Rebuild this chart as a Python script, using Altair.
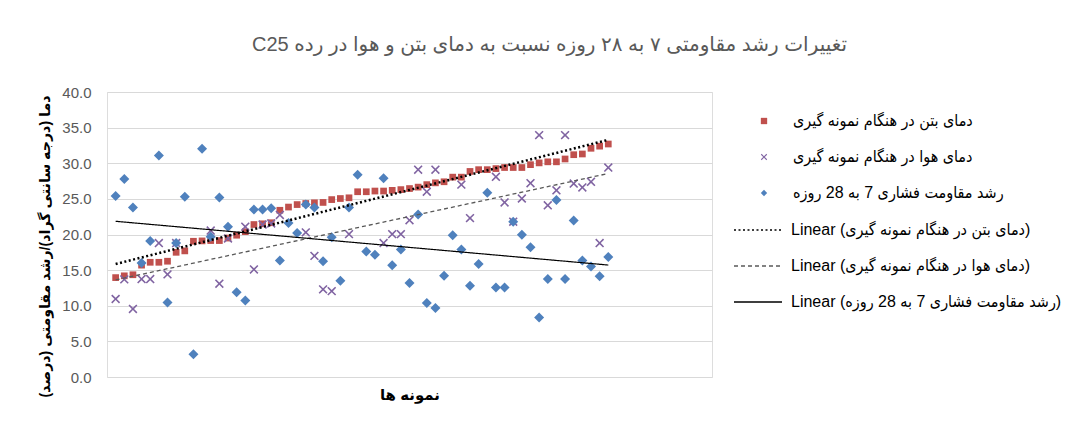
import altair as alt
import pandas as pd

# ---------------- data ----------------
sample_no = list(range(1, 59))

concrete_temp = [13.95, 14.2, 14.35, 15.7, 16.1, 16.1, 16.25, 17.5, 17.7, 19.05,
                 19.1, 19.15, 19.15, 19.5, 19.9, 20.4, 21.4, 21.5, 21.65, 23.4,
                 23.85, 24.2, 24.35, 24.45, 24.5, 24.9, 25.05, 25.15, 26.0, 26.0,
                 26.1, 26.1, 26.2, 26.3, 26.45, 26.65, 27.0, 27.25, 27.4, 28.05,
                 28.05, 28.85, 29.1, 29.1, 29.25, 29.4, 29.4, 29.4, 29.8, 30.05,
                 30.2, 30.2, 30.6, 31.2, 31.3, 32.1, 32.4, 32.7]

air_temp = [10.95, 13.7, 9.55, 13.75, 13.75, 18.8, 14.4, 18.8, None, None,
            None, 20.55, 13.1, 19.45, None, 21.1, 15.1, 21.4, 21.55, 22.75,
            None, None, 20.3, 17.0, 12.3, 12.05, None, 20.05, None, None,
            None, 18.8, 20.05, 20.05, 22.0, 29.1, 26.0, 29.1, None, None,
            27.0, 22.3, None, None, 28.1, 24.5, 21.8, 25.05, 27.2, 33.95,
            24.1, 26.2, 33.95, 27.15, 26.6, 27.4, 18.8, 29.4]

strength_growth = [25.4, 27.8, 23.8, 16.0, 19.1, 31.1, 10.45, 18.8, 25.3, 3.2,
                   32.05, 19.7, 25.2, 21.1, 11.9, 10.75, 23.5, 23.5, 23.7, 16.35,
                   21.6, 20.2, 24.2, 23.8, 16.25, 19.6, 13.5, 23.8, 28.4, 17.6,
                   17.15, 27.9, 15.7, 17.9, 13.2, 22.8, 10.4, 9.7, 14.2, 19.9,
                   17.9, 12.8, 15.85, 25.85, 12.55, 12.55, 21.8, 19.95, 18.2, 8.35,
                   13.75, 24.85, 13.75, 21.95, 16.35, 15.5, 14.15, 16.85]

series_names = ["دمای بتن در هنگام نمونه گیری",
                "دمای هوا در هنگام نمونه گیری",
                "رشد مقاومت فشاری 7 به 28 روزه"]
trend_names = ["Linear (" + s + ")" for s in series_names]
y_ticks = [0, 5, 10, 15, 20, 25, 30, 35, 40]

TITLE = "\u202bتغییرات رشد مقاومتی ۷ به ۲۸ روزه نسبت به دمای بتن و هوا در رده C25\u202c"
Y_TITLE = "\u202bدما (درجه سانتی گراد)/رشد مقاومتی (درصد)\u202c"
X_TITLE = "نمونه ها"

rows = []
for name, tname, vals in zip(series_names, trend_names,
                             [concrete_temp, air_temp, strength_growth]):
    for x, v in zip(sample_no, vals):
        if v is not None:
            rows.append({"x": x, "value": v, "series": name, "trend": tname})
df = pd.DataFrame(rows)

# ---------------- styling ----------------
FONT = "Liberation Sans, DejaVu Sans, sans-serif"
LEGEND_FONT = "Liberation Sans, DejaVu Sans Condensed, DejaVu Sans, sans-serif"
point_colors = ["#C0504D", "#8064A2", "#4F81BD"]
X_PATH = ("M-0.75,-1L0,-0.25L0.75,-1L1,-0.75L0.25,0L1,0.75L0.75,1L0,0.25"
          "L-0.75,1L-1,0.75L-0.25,0L-1,-0.75Z")
point_shapes = ["square", X_PATH, "diamond"]
point_sizes = [45, 80, 100]

x_enc = alt.X("x:Q", scale=alt.Scale(domain=[0, 70], nice=False, zero=False),
              axis=alt.Axis(title=X_TITLE, labels=False, ticks=False, grid=False,
                            domain=False, titleFont=FONT, titleFontSize=15,
                            titleFontWeight="bold", titleColor="#000000",
                            titlePadding=10))
y_enc = alt.Y("value:Q", scale=alt.Scale(domain=[0, 40], nice=False),
              axis=alt.Axis(values=y_ticks, format=".1f", title=Y_TITLE,
                            ticks=False, domain=False, grid=True,
                            gridColor="#D9D9D9", gridWidth=1,
                            labelFont=FONT, labelFontSize=15, labelColor="#595959",
                            labelPadding=16, titleFont=FONT, titleFontSize=14.2,
                            titleFontWeight="bold", titleColor="#000000",
                            titlePadding=9, titleY=154))

legend_points = alt.Legend(title=None, orient="none", legendX=649, legendY=21,
                           symbolSize=40, labelFont=LEGEND_FONT, labelFontSize=16,
                           labelColor="#000000", rowPadding=20, labelOffset=21,
                           labelLimit=500, padding=0, symbolStrokeWidth=0)
color_enc = alt.Color("series:N",
                      scale=alt.Scale(domain=series_names, range=point_colors),
                      legend=legend_points)
shape_enc = alt.Shape("series:N",
                      scale=alt.Scale(domain=series_names, range=point_shapes),
                      legend=legend_points)

legend_lines = alt.Legend(title=None, orient="none", legendX=626, legendY=113,
                          symbolType="stroke", symbolSize=2304,
                          symbolStrokeWidth=1.5, labelFont=LEGEND_FONT,
                          labelFontSize=16, labelColor="#000000", rowPadding=3,
                          labelOffset=8, labelLimit=500, padding=0)
dash_enc = alt.StrokeDash("trend:N",
                          scale=alt.Scale(domain=trend_names,
                                          range=[[2, 2.5], [4, 3], [1, 0]]),
                          legend=legend_lines)
stroke_enc = alt.Stroke("trend:N",
                        scale=alt.Scale(domain=trend_names,
                                        range=["#000000", "#595959", "#000000"]),
                        legend=legend_lines)

layers = []
for name, size in zip(series_names, point_sizes):
    layers.append(
        alt.Chart(df).transform_filter(alt.datum.series == name)
        .mark_point(filled=True, opacity=1, size=size)
        .encode(x=x_enc, y=y_enc, color=color_enc, shape=shape_enc)
    )
for name, width in zip(series_names, [2.5, 1.3, 1.2]):
    layers.append(
        alt.Chart(df).transform_filter(alt.datum.series == name)
        .transform_regression("x", "value", groupby=["trend"])
        .mark_line(strokeWidth=width)
        .encode(x=x_enc, y=y_enc, strokeDash=dash_enc, stroke=stroke_enc)
    )

chart = alt.layer(*layers).properties(
    width=605, height=285,
    title=alt.TitleParams(TITLE, font=FONT, fontSize=20, fontWeight="normal",
                          color="#595959", anchor="middle", dx=140, offset=30),
    autosize=alt.AutoSizeParams(type="none"),
    padding={"left": 99, "top": 84, "right": 361, "bottom": 38},
).configure_view(stroke=None).configure(background="white")

chart.save("out.html", embed_options={"renderer": "svg", "actions": False})
